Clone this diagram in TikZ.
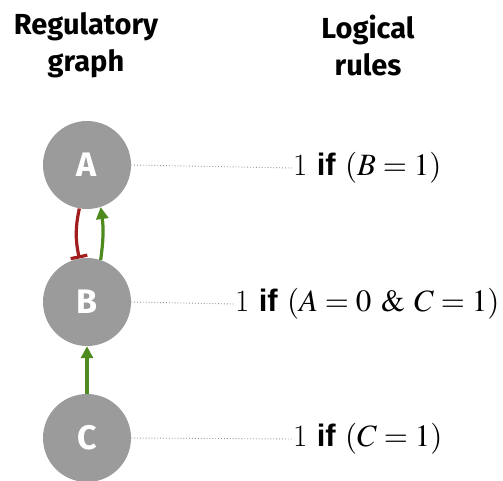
\documentclass[tikz,border=0pt]{standalone}
\usepackage{mathptmx}
\usepackage{fontspec}
\setsansfont{Fira Sans}
\newfontfamily\ifsans{Liberation Sans}
\usetikzlibrary{arrows.meta, positioning}
\definecolor{genegray}{HTML}{9B9B9B}
\definecolor{actgreen}{HTML}{4E8A1E}
\definecolor{inhred}{HTML}{A11D1D}
\tikzset{
  gene/.style={circle, fill=genegray, inner sep=0pt, minimum size=88pt,
               text=white, font=\sffamily\bfseries\fontsize{34}{34}\selectfont},
  head/.style={align=center, font=\sffamily\bfseries\fontsize{29}{37}\selectfont},
  rule/.style={anchor=west, inner sep=0pt, font=\fontsize{31}{31}\selectfont},
  link/.style={gray!85, dotted, line width=0.9pt},
  act/.style={-{Triangle[length=12pt, width=12pt]}, actgreen, line width=3.2pt},
  inh/.style={-{Bar[width=17pt]}, inhred, line width=3.2pt}
}
\newcommand{\ifw}{{\ifsans\bfseries if}}

\begin{document}
\begin{tikzpicture}[x=1pt, y=-1pt]
  \useasboundingbox (0,0) rectangle (503,480);
  \node[head] (hg) at (86,45) {Regulatory\\graph};
  \node[head] (hr) at (368,45) {Logical\\rules};
  % genes
  \node[gene] (nA) at (87,165) {A};
  \node[gene] (nB) at (87,302) {B};
  \node[gene] (nC) at (87,438) {C};
  % rules
  \node[rule] (rA) at (293,168) {1 \ifw{} $(B=1)$};
  \node[rule] (rB) at (235,304) {1 \ifw{} $(A=0\ \&\ C=1)$};
  \node[rule] (rC) at (293,439) {1 \ifw{} $(C=1)$};
  \foreach \g in {A,B,C}
    \draw[link] (n\g.east) -- (r\g.west);
  % interactions
  \draw[inh] (nA.-100) to[bend right=12] (nB.100);
  \draw[act] (nB.72) to[bend right=8] (nA.-72);
  \draw[act] (nC.north) -- (nB.south);
\end{tikzpicture}
\end{document}
